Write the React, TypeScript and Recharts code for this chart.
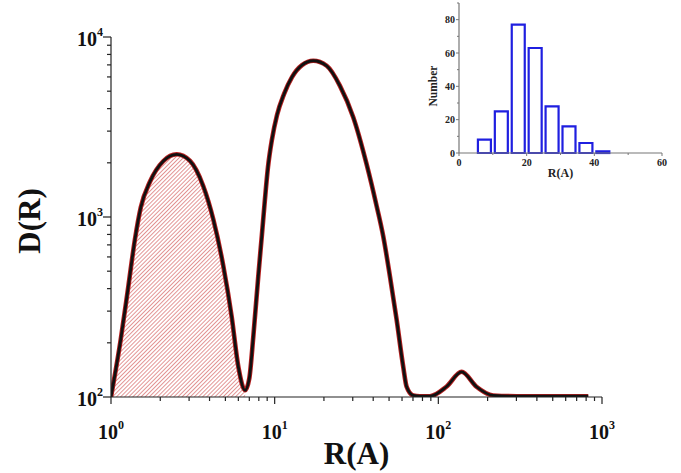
import React from 'react';
import { ComposedChart, Line, Area, XAxis, YAxis, BarChart, Bar } from 'recharts';

// Main curve: radius R (Å) and distribution D(R)
const radius = [1, 1.146, 1.276, 1.4, 1.52, 1.73, 2.09, 2.52, 3.04, 3.66, 4.22, 4.86, 5.46, 6.0, 6.6, 7.0, 7.4, 7.94, 8.36, 8.72, 9.1, 9.63, 10.33, 11.4, 12.76, 14.69, 17.21, 20.79, 25.06, 30.21, 36.48, 42.0, 46.06, 50.62, 55.64, 61.04, 64.02, 70.26, 77.2, 88.9, 112, 138.8, 171, 216, 300, 500, 824];
const density = [100, 208, 411, 750, 1130, 1570, 2047, 2230, 2050, 1487, 968, 532, 280, 147, 109, 127, 215, 468, 799, 1252, 1887, 2703, 3677, 4815, 5989, 6982, 7379, 6921, 5355, 3584, 1961, 1149, 782, 468, 268, 147, 114, 102, 101, 101, 114, 138, 114, 102, 101, 101, 101];
const hatchLimit = 6.6;

// Inset histogram
const binCenters = [7.5, 12.5, 17.5, 22.5, 27.5, 32.5, 37.5, 42.5];
const binCounts = [8, 25, 77, 63, 28, 16, 6, 1];

// Tick values
const xMajor = [1, 10, 100, 1000];
const xMinor = [2, 3, 4, 5, 6, 7, 8, 9, 20, 30, 40, 50, 60, 70, 80, 90, 200, 300, 400, 500, 600, 700, 800, 900];
const yMajor = [100, 1000, 10000];
const yMinor = [200, 300, 400, 500, 600, 700, 800, 900, 2000, 3000, 4000, 5000, 6000, 7000, 8000, 9000];
const insetXMajor = [0, 20, 40, 60];
const insetXMinor = [10, 30, 50];
const insetYMajor = [0, 20, 40, 60, 80];
const insetYMinor = [10, 30, 50, 70, 90];

const FONT = '"Liberation Serif", "Times New Roman", serif';

const mainData = radius.map((r, i) => ({
  r,
  d: density[i],
  hatch: r <= hatchLimit ? density[i] : null,
}));

const insetData = binCenters.map((c, i) => ({ c, n: binCounts[i] }));

const MainXTick = (props: any) => {
  const { x, y, payload } = props;
  const v = payload.value;
  const major = xMajor.includes(v);
  return (
    <g>
      <line x1={x} y1={y} x2={x} y2={y + (major ? 7 : 4)} stroke="#222" strokeWidth={1.2} />
      {major && (
        <text x={x} y={y + 42} textAnchor="middle" fontFamily={FONT} fontWeight="bold" fontSize={20} fill="#111">
          10<tspan dy={-10} fontSize={12}>{Math.round(Math.log10(v))}</tspan>
        </text>
      )}
    </g>
  );
};

const MainYTick = (props: any) => {
  const { x, y, payload } = props;
  const v = payload.value;
  const major = yMajor.includes(v);
  return (
    <g>
      <line x1={x} y1={y} x2={x - (major ? 8 : 4)} y2={y} stroke="#222" strokeWidth={1.2} />
      {major && (
        <text x={x - 8} y={y + 9} textAnchor="end" fontFamily={FONT} fontWeight="bold" fontSize={20} fill="#111">
          10<tspan dy={-10} fontSize={12}>{Math.round(Math.log10(v))}</tspan>
        </text>
      )}
    </g>
  );
};

const InsetXTick = (props: any) => {
  const { x, y, payload } = props;
  const v = payload.value;
  const major = insetXMajor.includes(v);
  return (
    <g>
      <line x1={x} y1={y} x2={x} y2={y + (major ? 3 : 2)} stroke="#777" strokeWidth={1} />
      {major && (
        <text x={x} y={y + 13} textAnchor="middle" fontFamily={FONT} fontWeight="bold" fontSize={10} fill="#222">
          {v}
        </text>
      )}
    </g>
  );
};

const InsetYTick = (props: any) => {
  const { x, y, payload } = props;
  const v = payload.value;
  const major = insetYMajor.includes(v);
  return (
    <g>
      <line x1={x} y1={y} x2={x - (major ? 3 : 2)} y2={y} stroke="#777" strokeWidth={1} />
      {major && (
        <text x={x - 4} y={y + 3.5} textAnchor="end" fontFamily={FONT} fontWeight="bold" fontSize={10} fill="#222">
          {v}
        </text>
      )}
    </g>
  );
};

export default function App() {
  return (
    <div style={{ position: 'absolute', left: 0, top: 0, width: 681, height: 473, background: '#fff' }}>
      <ComposedChart
        width={681}
        height={473}
        data={mainData}
        margin={{ top: 37, right: 79, bottom: 36, left: 51 }}
      >
        <defs>
          <pattern id="hatch" width="2.9" height="2.9" patternUnits="userSpaceOnUse" patternTransform="rotate(45)">
            <line x1="0" y1="0" x2="0" y2="2.9" stroke="#cc4040" strokeWidth="1.1" />
          </pattern>
        </defs>
        <XAxis
          dataKey="r"
          type="number"
          scale="log"
          domain={[1, 1000]}
          allowDataOverflow
          ticks={[...xMajor, ...xMinor]}
          interval={0}
          tickSize={0}
          tickMargin={0}
          tickLine={false}
          height={40}
          axisLine={{ stroke: '#222', strokeWidth: 1.2 }}
          tick={<MainXTick />}
          label={{
            content: (p: any) => (
              <text
                x={p.viewBox.x + p.viewBox.width / 2}
                y={p.viewBox.y + 67}
                textAnchor="middle"
                fontFamily={FONT}
                fontWeight="bold"
                fontSize={31}
                fill="#111"
              >
                R(A)
              </text>
            ),
          }}
        />
        <YAxis
          type="number"
          scale="log"
          domain={[100, 10000]}
          allowDataOverflow
          ticks={[...yMajor, ...yMinor]}
          interval={0}
          tickSize={0}
          tickMargin={0}
          tickLine={false}
          width={60}
          axisLine={{ stroke: '#222', strokeWidth: 1.2 }}
          tick={<MainYTick />}
          label={{
            content: (p: any) => {
              const cx = p.viewBox.x - 22;
              const cy = p.viewBox.y + p.viewBox.height / 2 + 4;
              return (
                <text
                  x={cx}
                  y={cy}
                  transform={`rotate(-90, ${cx}, ${cy})`}
                  textAnchor="middle"
                  dominantBaseline="central"
                  fontFamily={FONT}
                  fontWeight="bold"
                  fontSize={31}
                  fill="#111"
                >
                  D(R)
                </text>
              );
            },
          }}
        />
        <Area
          dataKey="hatch"
          type="monotone"
          fill="url(#hatch)"
          fillOpacity={1}
          stroke="none"
          connectNulls={false}
          isAnimationActive={false}
          dot={false}
          activeDot={false}
        />
        <Line dataKey="d" type="monotone" stroke="#b51f1f" strokeWidth={4.6} dot={false} activeDot={false} isAnimationActive={false} />
        <Line dataKey="d" type="monotone" stroke="#111" strokeWidth={2.8} dot={false} activeDot={false} isAnimationActive={false} />
      </ComposedChart>

      <div style={{ position: 'absolute', left: 400, top: 0, width: 281, height: 200 }}>
        <BarChart
          width={281}
          height={200}
          data={insetData}
          margin={{ top: 3, right: 19, bottom: 17, left: 29 }}
        >
          <XAxis
            dataKey="c"
            type="number"
            domain={[0, 60]}
            ticks={[...insetXMajor, ...insetXMinor]}
            interval={0}
            tickSize={0}
            tickMargin={0}
            tickLine={false}
            height={30}
            axisLine={{ stroke: '#777', strokeWidth: 1.2 }}
            tick={<InsetXTick />}
            label={{
              content: (p: any) => (
                <text
                  x={p.viewBox.x + p.viewBox.width / 2}
                  y={p.viewBox.y + 24}
                  textAnchor="middle"
                  fontFamily={FONT}
                  fontWeight="bold"
                  fontSize={12}
                  fill="#222"
                >
                  R(A)
                </text>
              ),
            }}
          />
          <YAxis
            type="number"
            domain={[0, 90]}
            ticks={[...insetYMajor, ...insetYMinor]}
            interval={0}
            tickSize={0}
            tickMargin={0}
            tickLine={false}
            width={30}
            axisLine={{ stroke: '#777', strokeWidth: 1.2 }}
            tick={<InsetYTick />}
            label={{
              content: (p: any) => {
                const cx = p.viewBox.x + 4;
                const cy = p.viewBox.y + 83;
                return (
                  <text
                    x={cx}
                    y={cy}
                    transform={`rotate(-90, ${cx}, ${cy})`}
                    textAnchor="middle"
                    dominantBaseline="central"
                    fontFamily={FONT}
                    fontWeight="bold"
                    fontSize={11.5}
                    fill="#222"
                  >
                    Number
                  </text>
                );
              },
            }}
          />
          <Bar dataKey="n" barSize={13} fill="#fff" stroke="#1f1fe0" strokeWidth={2.2} isAnimationActive={false} />
        </BarChart>
      </div>
    </div>
  );
}
